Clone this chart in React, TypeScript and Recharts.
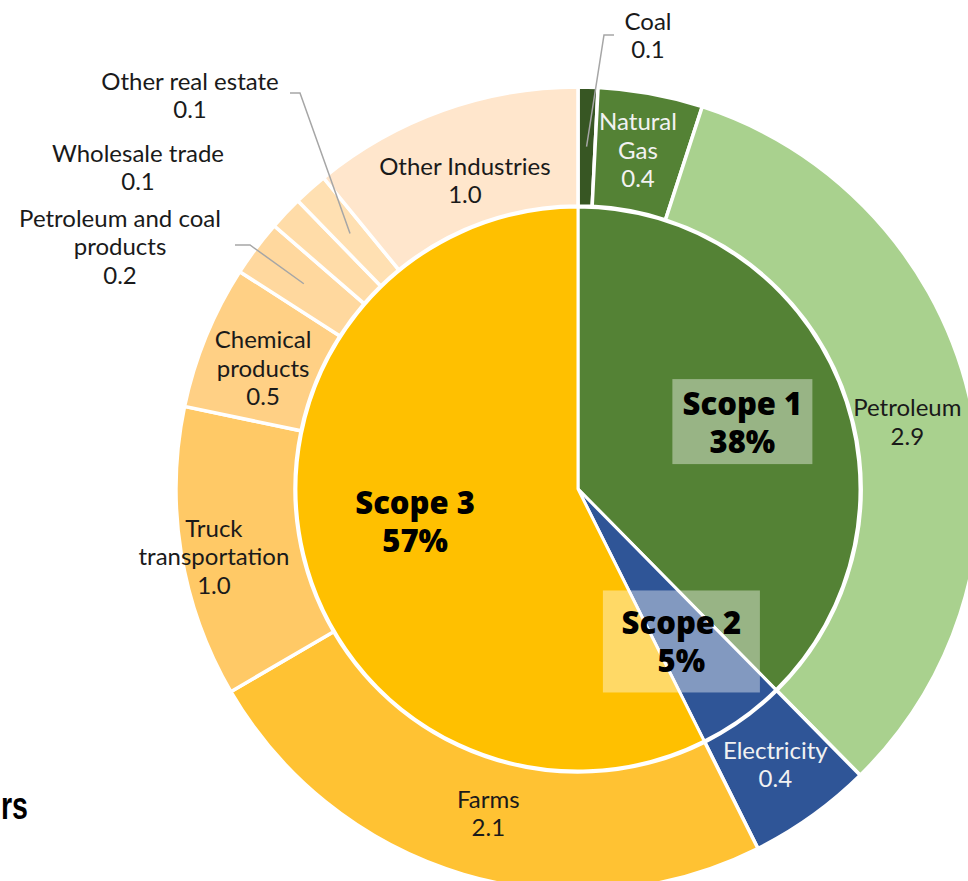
import { PieChart, Pie, Cell } from 'recharts';

const sectors = [
  'Coal', 'Natural Gas', 'Petroleum', 'Electricity', 'Farms', 'Truck transportation',
  'Chemical products', 'Petroleum and coal products', 'Wholesale trade', 'Other real estate', 'Other Industries',
];
const sectorValues = [0.07, 0.37, 2.87, 0.44, 2.11, 1.03, 0.51, 0.2, 0.12, 0.12, 0.96];
const sectorScope = [0, 0, 0, 1, 2, 2, 2, 2, 2, 2, 2];
const sectorColors = [
  '#375623', '#548235', '#A9D18E', '#2F5597', '#FFC233', '#FFC966',
  '#FFD085', '#FFD89E', '#FFDCA8', '#FFE0B2', '#FFE6CC',
];
const sectorLines = [
  ['Coal'], ['Natural', 'Gas'], ['Petroleum'], ['Electricity'], ['Farms'], ['Truck', 'transportation'],
  ['Chemical', 'products'], ['Petroleum and coal', 'products'], ['Wholesale trade'], ['Other real estate'], ['Other Industries'],
];

const scopes = ['Scope 1', 'Scope 2', 'Scope 3'];
const scopeColors = ['#548235', '#2F5597', '#FFC000'];

const outerData = sectors.map((name, i) => ({ name, value: sectorValues[i] }));
const innerData = scopes.map((name, s) => ({
  name,
  value: sectorValues.filter((_, i) => sectorScope[i] === s).reduce((a, b) => a + b, 0),
}));
const total = sectorValues.reduce((a, b) => a + b, 0);

const RADIAN = Math.PI / 180;
const FONT = 'Lato, "Open Sans", sans-serif';
const BOLD_FONT = '"Open Sans", Lato, sans-serif';
const LINE_H = 28.5;

// labels placed outside the ring (offsets from pie centre)
const outsideLabels: Record<number, { x: number; y: number; line?: number[][] }> = {
  0: { x: 70, y: -469, line: [[26, -454], [36, -454]] },
  7: { x: -458, y: -272, line: [[-328, -244], [-343, -244]] },
  8: { x: -440, y: -337 },
  9: { x: -388, y: -409, line: [[-278, -396], [-288, -396]] },
};
// small nudges for the in-ring labels
const nudges: Record<number, number[]> = {
  1: [-2, -3], 2: [-4, 11], 3: [-2, -4], 4: [8, -5], 5: [-26, 12], 6: [2, 8], 10: [2, 13],
};
const lightText = [1, 3];

const renderOuterLabel = (props: any) => {
  const { cx, cy, midAngle, innerRadius, outerRadius, index } = props;
  const lines = [...sectorLines[index], sectorValues[index].toFixed(1)];
  const r = (innerRadius + outerRadius) / 2;
  const mx = cx + r * Math.cos(-midAngle * RADIAN);
  const my = cy + r * Math.sin(-midAngle * RADIAN);
  const out = outsideLabels[index];
  if (out) {
    const pts = out.line ? [[mx, my], ...out.line.map(([x, y]) => [cx + x, cy + y])] : null;
    return (
      <g key={`ol-${index}`}>
        {pts && (
          <polyline points={pts.map((p) => p.join(',')).join(' ')} fill="none" stroke="#A6A6A6" strokeWidth={1.5} />
        )}
        {lines.map((t, k) => (
          <text key={k} x={cx + out.x} y={cy + out.y + k * LINE_H} textAnchor="middle" dominantBaseline="central"
            fontFamily={FONT} fontSize={24} fill="#1a1a1a">{t}</text>
        ))}
      </g>
    );
  }
  const [dx, dy] = nudges[index] || [0, 0];
  const top = my + dy - ((lines.length - 1) * LINE_H) / 2;
  return (
    <g key={`ol-${index}`}>
      {lines.map((t, k) => (
        <text key={k} x={mx + dx} y={top + k * LINE_H} textAnchor="middle" dominantBaseline="central"
          fontFamily={FONT} fontSize={24} fill={lightText.includes(index) ? '#F2F2F2' : '#1a1a1a'}>{t}</text>
      ))}
    </g>
  );
};

const scopeBoxes: Record<number, number[]> = { 0: [140, 85], 1: [157, 102] };
const scopeNudge: Record<number, number[]> = { 0: [0, 0], 1: [0, 8], 2: [10, -9] };

const renderInnerLabel = (props: any) => {
  const { cx, cy, midAngle, outerRadius, index, value } = props;
  const r = outerRadius * 0.63;
  const [dx, dy] = scopeNudge[index];
  const x = cx + r * Math.cos(-midAngle * RADIAN) + dx;
  const y = cy + r * Math.sin(-midAngle * RADIAN) + dy;
  const box = scopeBoxes[index];
  return (
    <g key={`il-${index}`}>
      {box && <rect x={x - box[0] / 2} y={y - box[1] / 2} width={box[0]} height={box[1]} fill="#fff" fillOpacity={0.4} />}
      <text x={x} y={y - 19} textAnchor="middle" dominantBaseline="central" fontFamily={BOLD_FONT} fontSize={31} fontWeight={800} fill="#000">
        {scopes[index]}
      </text>
      <text x={x} y={y + 19} textAnchor="middle" dominantBaseline="central" fontFamily={BOLD_FONT} fontSize={31} fontWeight={800} fill="#000">
        {`${Math.round((value / total) * 100)}%`}
      </text>
    </g>
  );
};

export default function App() {
  return (
    <div style={{ position: 'absolute', left: 0, top: 0, width: 968, height: 881, background: '#fff', overflow: 'hidden' }}>
      <PieChart width={968} height={881} margin={{ top: 0, right: 0, bottom: 0, left: 0 }}>
        <Pie
          data={outerData}
          dataKey="value"
          cx={578}
          cy={489}
          innerRadius={283}
          outerRadius={402}
          startAngle={90}
          endAngle={-270}
          stroke="#fff"
          strokeWidth={3.5}
          label={renderOuterLabel}
          labelLine={false}
          isAnimationActive={false}
        >
          {outerData.map((d, i) => (
            <Cell key={d.name} fill={sectorColors[i]} />
          ))}
        </Pie>
        <Pie
          data={innerData}
          dataKey="value"
          cx={578}
          cy={489}
          outerRadius={282}
          startAngle={90}
          endAngle={-270}
          stroke="#fff"
          strokeWidth={3}
          label={renderInnerLabel}
          labelLine={false}
          isAnimationActive={false}
        >
          {innerData.map((d, i) => (
            <Cell key={d.name} fill={scopeColors[i]} />
          ))}
        </Pie>
      </PieChart>
      <svg width={120} height={60} style={{ position: 'absolute', left: 0, top: 780 }}>
        <text x={1} y={39} textLength={27} lengthAdjust="spacingAndGlyphs" fontFamily='"Liberation Sans", Arial, sans-serif'
          fontWeight={700} fontSize={38} fill="#000">
          rs
        </text>
      </svg>
    </div>
  );
}
